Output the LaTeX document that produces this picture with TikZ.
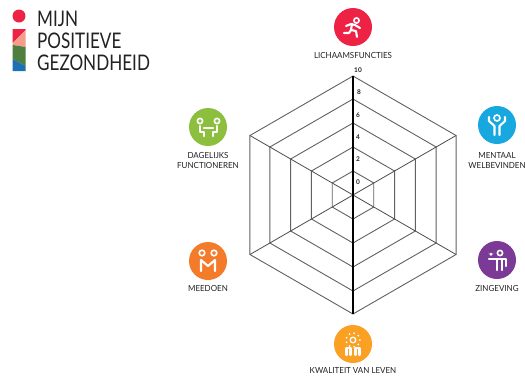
\documentclass[tikz,border=0pt]{standalone}
\usepackage{fontspec}
\usetikzlibrary{calc}
\setmainfont{Lato}
\definecolor{txt}{HTML}{222222}
\definecolor{redc}{HTML}{EE2245}
\definecolor{greenc}{HTML}{8DBF3F}
\definecolor{bluec}{HTML}{18A8E0}
\definecolor{purplec}{HTML}{7B3A96}
\definecolor{orangec}{HTML}{F47B2A}
\definecolor{amberc}{HTML}{FAA023}
\definecolor{salmonc}{HTML}{F79C8A}
\definecolor{leafc}{HTML}{4F7F3F}
\definecolor{seac}{HTML}{1F6FB4}
\tikzset{
  badge/.style={circle,minimum size=38pt,inner sep=0pt,fill=#1},
  lbl/.style={font=\fontsize{8.4}{10}\selectfont,text=txt,inner sep=0pt,align=center,xscale=0.95,transform shape},
  logotxt/.style={font=\fontsize{21.5}{24}\selectfont,text=txt,inner sep=0pt,anchor=west,xscale=0.795,transform shape},
  tick/.style={font=\fontsize{6.5}{8}\selectfont\bfseries,text=txt,inner sep=0pt},
  ring/.style={draw=black!62,line width=0.9pt,line join=miter},
  spoke/.style={draw=black!70,line width=0.8pt},
  axis/.style={draw=black,line width=1.5pt},
  ico/.style={draw=white,line width=2.1pt,line cap=round,line join=round},
  icothin/.style={draw=white,line width=1.6pt}
}
\begin{document}
\begin{tikzpicture}[x=1pt,y=-1pt]
\useasboundingbox[fill=white] (0,0) rectangle (525,376);
% logo
\fill[redc] (19,16) circle (6.5);
\fill[redc] (12.7,29) -- (25.7,29) -- (25.7,30) -- (12.7,43) -- cycle;
\fill[salmonc] (12.7,43) -- (25.7,30) -- (25.7,47) -- (12.7,45) -- cycle;
\fill[leafc] (12.7,45) -- (25.7,47) -- (25.7,66) -- (12.7,59) -- cycle;
\fill[seac] (12.7,59) -- (25.7,66) -- (25.7,71) -- (12.7,71) -- cycle;
\node[logotxt] (l1) at (37,19) {MIJN};
\node[logotxt] (l2) at (37,41) {POSITIEVE};
\node[logotxt] (l3) at (37,63) {GEZONDHEID};
% radar
\begin{scope}[shift={(353,195)}]
\foreach \r in {24,48,72,96,119}
  \draw[ring] (90:\r) -- (150:\r) -- (210:\r) -- (270:\r) -- (330:\r) -- (30:\r) -- cycle;
\foreach \a in {30,150,210,330}
  \draw[spoke] (0,0) -- (\a:119);
\draw[axis] (90:119) -- (270:119);
\end{scope}
\node[tick] (t0) at (358,182) {0};
\node[tick] (t2) at (358,159) {2};
\node[tick] (t4) at (358,137) {4};
\node[tick] (t6) at (358,115) {6};
\node[tick] (t8) at (359,92) {8};
\node[tick] (t10) at (358,70) {10};
% badges
\node[badge=redc] (red) at (353,27) {};
\node[badge=greenc] (green) at (208,127) {};
\node[badge=bluec] (blue) at (497,125) {};
\node[badge=purplec] (purple) at (497,260) {};
\node[badge=orangec] (orange) at (208,261) {};
\node[badge=amberc] (amber) at (353,344) {};
% labels
\node[lbl] (lred) at (353,55) {LICHAAMSFUNCTIES};
\node[lbl] (lgreen) at (208,160) {DAGELIJKS\\FUNCTIONEREN};
\node[lbl] (lblue) at (497,160) {MENTAAL\\WELBEVINDEN};
\node[lbl] (lpurple) at (497,288) {ZINGEVING};
\node[lbl] (lorange) at (208,288) {MEEDOEN};
\node[lbl] (lamber) at (353,370) {KWALITEIT VAN LEVEN};
% runner
\begin{scope}[shift={(red.center)}]
\draw[icothin] (3.5,-6.5) circle (2.6);
\draw[ico] (-7,-1) -- (-2,-3) -- (2,-2) -- (7,1);
\draw[ico] (-1,-3) -- (-2,3) -- (3,4) -- (4,10);
\draw[ico] (-2,3) -- (-4,6) -- (-9,6);
\end{scope}
% function
\begin{scope}[shift={(green.center)}]
\draw[icothin] (-8,-6) circle (2.6) (9,-6) circle (2.6);
\draw[ico] (-8,-1) -- (-8,5) -- (-4,5) -- (-4,9);
\draw[ico] (9,-1) -- (9,5) -- (5,5) -- (5,9);
\draw[ico] (-4,1) -- (5,1);
\end{scope}
% mental
\begin{scope}[shift={(blue.center)}]
\draw[icothin] (0,-7) circle (3);
\draw[ico] (-8,-8) -- (-8,-4) -- (-2.5,1) -- (-2.5,10);
\draw[ico] (8,-8) -- (8,-4) -- (2.5,1) -- (2.5,10);
\end{scope}
% meaning
\begin{scope}[shift={(purple.center)}]
\fill[white] (-6,-4) -- (-9,-7.5) arc (180:0:1.5) arc (180:0:1.5) -- cycle;
\draw[icothin] (3,-7) circle (2.6);
\draw[ico] (-8,-1) -- (9,-1) -- (9,6);
\draw[ico] (0,-1) -- (0,10);
\draw[ico] (5,-1) -- (5,10);
\end{scope}
% participate
\begin{scope}[shift={(orange.center)}]
\draw[icothin] (-6,-8) circle (2.8) (6,-8) circle (2.8);
\draw[ico] (-7,10) -- (-7,-1) -- (0,5) -- (7,-1) -- (7,10);
\end{scope}
% quality
\begin{scope}[shift={(amber.center)}]
\draw[icothin,line width=1.3pt] (0,-4) circle (2.8);
\foreach \a in {0,40,...,320}
  \fill[white] ($(0,-4)+(\a:6.8)$) circle (1);
\draw[ico] (-6.5,11) -- (-6.5,4) -- (-2.5,4) -- (-2.5,11);
\draw[ico] (2.5,11) -- (2.5,4) -- (6.5,4) -- (6.5,11);
\end{scope}
\end{tikzpicture}
\end{document}
